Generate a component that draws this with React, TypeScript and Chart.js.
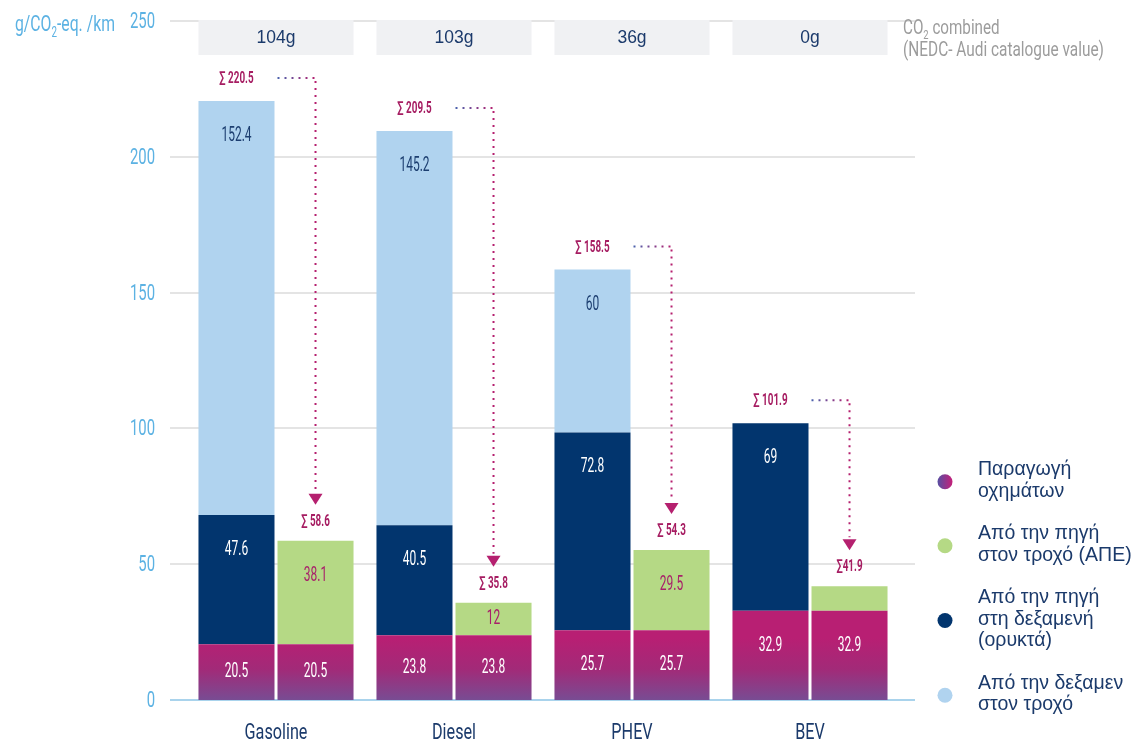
import React, { useEffect, useRef } from 'react';
import { Chart, registerables } from 'chart.js';

Chart.register(...registerables);

// ---------- data ----------
const categories = ['Gasoline', 'Diesel', 'PHEV', 'BEV'];
const production = [20.5, 23.8, 25.7, 32.9];
const wellToTankFossil = [47.6, 40.5, 72.8, 69];
const tankToWheel = [152.4, 145.2, 60, 0];
const wellToWheelRenewable = [38.1, 12, 29.5, 9];
const fossilTotals = ['∑ 220.5', '∑ 209.5', '∑ 158.5', '∑ 101.9'];
const renewableTotals = ['∑ 58.6', '∑ 35.8', '∑ 54.3', '∑41.9'];
const combinedCO2 = ['104g', '103g', '36g', '0g'];
const yTicks = [0, 50, 100, 150, 200, 250];
const legendItems = [
  ['Παραγωγή', 'οχημάτων'],
  ['Από την πηγή', 'στον τροχό (ΑΠΕ)'],
  ['Από την πηγή', 'στη δεξαμενή', '(ορυκτά)'],
  ['Από την δεξαμεν', 'στον τροχό'],
];

// ---------- styles ----------
const COND = "Roboto, 'Liberation Sans', sans-serif";
const SANS = "'Liberation Sans', Arial, sans-serif";
const NAVY = '#02356e';
const LIGHTBLUE = '#b0d3ef';
const GREEN = '#b5d985';
const MAGENTA = '#b81f73';
const SUM = '#a61d62';
const TEXTNAVY = '#1b3a6b';
const AXISBLUE = '#5cb2e3';

function pinkGradient(ctx: any) {
  const chart = ctx.chart;
  if (!chart.chartArea) return MAGENTA;
  const y0 = chart.scales.y.getPixelForValue(0);
  const g = chart.ctx.createLinearGradient(0, y0, 0, y0 - 62);
  g.addColorStop(0, '#784c93');
  g.addColorStop(0.5, '#a22a78');
  g.addColorStop(1, MAGENTA);
  return g;
}

const labelColors = ['#ffffff', '#ffffff', '#1c3e70', '#ffffff', '#a8206a'];

// condensed text: horizontally scaled
function ctext(
  ctx: CanvasRenderingContext2D, text: string, x: number, y: number,
  size: number, sx: number, align: CanvasTextAlign, weight = '',
): number {
  ctx.save();
  ctx.translate(x, y);
  ctx.scale(sx, 1);
  ctx.font = `${weight} ${size}px ${COND}`;
  ctx.textAlign = align;
  ctx.textBaseline = 'middle';
  ctx.fillText(text, 0, 0);
  const w = ctx.measureText(text).width * sx;
  ctx.restore();
  return w;
}

function drawSub(ctx: CanvasRenderingContext2D, parts: [string, string, string], x: number, y: number, size: number, sx: number) {
  let cx = x;
  cx += ctext(ctx, parts[0], cx, y, size, sx, 'left');
  cx += ctext(ctx, parts[1], cx, y + size * 0.38, Math.round(size * 0.6), sx, 'left');
  ctext(ctx, parts[2], cx, y, size, sx, 'left');
}

const decorPlugin = {
  id: 'decor',
  beforeDatasetsDraw(chart: any) {
    const { ctx, scales } = chart;
    const y = scales.y;
    const x = scales.x;
    ctx.save();
    // gridlines + y tick labels
    yTicks.forEach((t) => {
      const py = Math.round(y.getPixelForValue(t));
      ctx.beginPath();
      ctx.strokeStyle = t === 0 ? '#a9d3ec' : '#e4e4e4';
      ctx.lineWidth = 2;
      ctx.moveTo(170, py);
      ctx.lineTo(915, py);
      ctx.stroke();
      ctx.fillStyle = AXISBLUE;
      ctext(ctx, String(t), 155, py + 1, 22.5, 0.66, 'right');
    });
    // category labels
    categories.forEach((c, i) => {
      ctx.fillStyle = TEXTNAVY;
      ctext(ctx, c, x.getPixelForValue(i), 733, 22.5, 0.72, 'center');
    });
    // header boxes
    const m0 = chart.getDatasetMeta(0);
    const m3 = chart.getDatasetMeta(3);
    categories.forEach((_, i) => {
      const a = m0.data[i];
      const b = m3.data[i];
      const left = a.x - a.width / 2;
      const right = b.x + b.width / 2;
      ctx.fillStyle = '#f0f1f3';
      ctx.fillRect(left, 20, right - left, 35);
      ctx.fillStyle = TEXTNAVY;
      ctx.font = `17.5px ${SANS}`;
      ctx.textAlign = 'center';
      ctx.textBaseline = 'middle';
      ctx.fillText(combinedCO2[i], (left + right) / 2, 38);
    });
    ctx.restore();
  },
  afterDatasetsDraw(chart: any) {
    const { ctx } = chart;
    ctx.save();
    // segment labels
    chart.data.datasets.forEach((ds: any, di: number) => {
      const meta = chart.getDatasetMeta(di);
      meta.data.forEach((el: any, i: number) => {
        const v = ds.data[i];
        if (v < 10) return;
        const top = Math.min(el.y, el.base);
        const bottom = Math.max(el.y, el.base);
        const center = (top + bottom) / 2;
        const ty = Math.min(top + 35, center);
        ctx.fillStyle = labelColors[di];
        ctext(ctx, String(v), el.x, ty, 20, 0.6, 'center');
      });
    });
    // sums + arrows
    const mTop = chart.getDatasetMeta(2);
    const mRen = chart.getDatasetMeta(4);
    categories.forEach((_, i) => {
      const a = mTop.data[i];
      const b = mRen.data[i];
      const ay = Math.min(a.y, a.base);
      const by = Math.min(b.y, b.base);
      const ly = ay - 22;
      ctx.fillStyle = SUM;
      ctext(ctx, fossilTotals[i], a.x, ly, 16.5, 0.6, 'center', 'bold');
      ctext(ctx, renewableTotals[i], b.x, by - 19, 16.5, 0.6, 'center', 'bold');
      const x0 = a.x + a.width / 2 + 3;
      const x1 = b.x;
      const arrowTip = by - 36;
      const arrowTop = arrowTip - 11;
      const g = ctx.createLinearGradient(x0, 0, x1, 0);
      g.addColorStop(0, '#4b63ad');
      g.addColorStop(1, '#b5206f');
      ctx.setLineDash([2, 5]);
      ctx.lineWidth = 2;
      ctx.strokeStyle = g;
      ctx.beginPath();
      ctx.moveTo(x0, ly - 1);
      ctx.lineTo(x1, ly - 1);
      ctx.stroke();
      ctx.strokeStyle = '#b5206f';
      ctx.beginPath();
      ctx.moveTo(x1, ly + 2);
      ctx.lineTo(x1, arrowTop - 2);
      ctx.stroke();
      ctx.setLineDash([]);
      ctx.fillStyle = '#b5206f';
      ctx.beginPath();
      ctx.moveTo(x1 - 7, arrowTop);
      ctx.lineTo(x1 + 7, arrowTop);
      ctx.lineTo(x1, arrowTip);
      ctx.closePath();
      ctx.fill();
    });
    ctx.restore();
  },
  afterDraw(chart: any) {
    const { ctx } = chart;
    ctx.save();
    // axis title
    ctx.fillStyle = AXISBLUE;
    drawSub(ctx, ['g/CO', '2', '-eq. /km'], 15, 25, 22.5, 0.7);
    // CO2 combined note
    ctx.fillStyle = '#9c9c9c';
    drawSub(ctx, ['CO', '2', ' combined'], 903, 29, 19.5, 0.78);
    ctext(ctx, '(NEDC- Audi catalogue value)', 903, 51, 19.5, 0.79, 'left');
    // legend
    const lineH = 21.5;
    let top = 470;
    legendItems.forEach((lines, k) => {
      const cy = top + ((lines.length - 1) * lineH) / 2;
      let fill: any;
      if (k === 0) {
        const g = ctx.createLinearGradient(938, 0, 952, 0);
        g.addColorStop(0, '#5a4ea1');
        g.addColorStop(1, '#c2207a');
        fill = g;
      } else {
        fill = [GREEN, NAVY, LIGHTBLUE][k - 1];
      }
      ctx.fillStyle = fill;
      ctx.beginPath();
      ctx.arc(945, cy + 1, 7.5, 0, Math.PI * 2);
      ctx.fill();
      ctx.fillStyle = TEXTNAVY;
      ctx.font = `19.5px ${SANS}`;
      ctx.textAlign = 'left';
      ctx.textBaseline = 'middle';
      lines.forEach((t, j) => ctx.fillText(t, 978, top + j * lineH));
      top += lines.length * lineH + 21;
    });
    ctx.restore();
  },
};

export default function App() {
  const ref = useRef<HTMLCanvasElement>(null);
  useEffect(() => {
    if (!ref.current) return;
    const chart = new Chart(ref.current, {
      type: 'bar',
      data: {
        labels: categories,
        datasets: [
          { label: 'production', data: production, stack: 'fossil', backgroundColor: pinkGradient },
          { label: 'wtt', data: wellToTankFossil, stack: 'fossil', backgroundColor: NAVY },
          { label: 'ttw', data: tankToWheel, stack: 'fossil', backgroundColor: LIGHTBLUE },
          { label: 'production2', data: production, stack: 'renew', backgroundColor: pinkGradient },
          { label: 'wtw', data: wellToWheelRenewable, stack: 'renew', backgroundColor: GREEN },
        ],
      },
      options: {
        animation: false,
        responsive: false,
        devicePixelRatio: 1,
        categoryPercentage: 0.888,
        barPercentage: 0.962,
        layout: { padding: { left: 0, right: 242, top: 21, bottom: 0 } },
        plugins: { legend: { display: false }, tooltip: { enabled: false } },
        scales: {
          x: {
            stacked: true,
            grid: { display: false, drawTicks: false },
            border: { display: false },
            ticks: { display: false },
            afterFit: (s: any) => { s.height = 46; },
          },
          y: {
            stacked: true,
            min: 0,
            max: 250,
            grid: { display: false, drawTicks: false },
            border: { display: false },
            ticks: { display: false, stepSize: 50 },
            afterFit: (s: any) => { s.width = 187; },
          },
        },
      },
      plugins: [decorPlugin],
    } as any);
    return () => chart.destroy();
  }, []);
  return (
    <div style={{ position: 'fixed', left: 0, top: 0, width: 1141, height: 746, background: '#fff' }}>
      <canvas ref={ref} width={1141} height={746} style={{ display: 'block' }} />
    </div>
  );
}
